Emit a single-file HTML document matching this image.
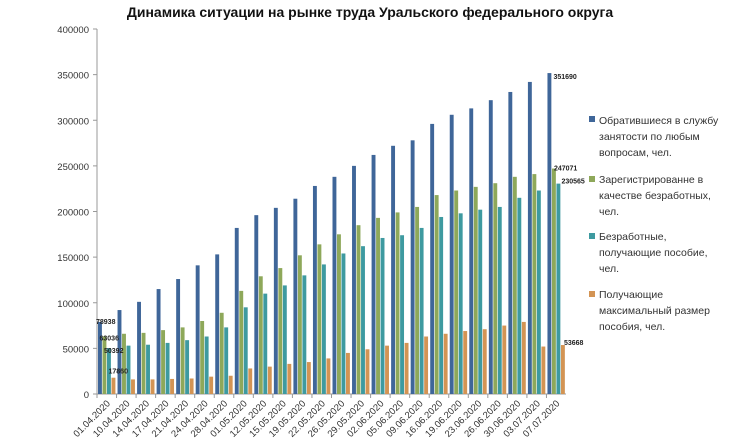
<!DOCTYPE html>
<html><head><meta charset="utf-8"><style>
body{margin:0;background:#fff;}
svg{display:block;font-family:"Liberation Sans","DejaVu Sans",sans-serif;}
</style></head><body>
<svg id="chart" width="735" height="441">
<text x="370" y="17" text-anchor="middle" font-size="14" font-weight="bold" fill="#111">Динамика ситуации  на рынке труда Уральского федерального округа</text>
<g id="axes"></g><g id="bars"></g><g id="labels"></g>
<g font-size="10.5" fill="#333">
 <g><rect x="589" y="116" width="6" height="6" fill="#3f6699"/><text x="599" y="124">Обратившиеся в службу</text><text x="599" y="140">занятости по любым</text><text x="599" y="156">вопросам, чел.</text></g>
 <g><rect x="589" y="176" width="6" height="6" fill="#8ea85a"/><text x="599" y="183">Зарегистрированне в</text><text x="599" y="199">качестве безработных,</text><text x="599" y="215">чел.</text></g>
 <g><rect x="589" y="233" width="6" height="6" fill="#3e9aa0"/><text x="599" y="240">Безработные,</text><text x="599" y="256">получающие пособие,</text><text x="599" y="272">чел.</text></g>
 <g><rect x="589" y="291" width="6" height="6" fill="#d39454"/><text x="599" y="298">Получающие</text><text x="599" y="314">максимальный размер</text><text x="599" y="330">пособия, чел.</text></g>
</g>
</svg>
<script>
const categories=["01.04.2020","10.04.2020","14.04.2020","17.04.2020","21.04.2020","24.04.2020","28.04.2020","01.05.2020","12.05.2020","15.05.2020","19.05.2020","22.05.2020","26.05.2020","29.05.2020","02.06.2020","05.06.2020","09.06.2020","16.06.2020","19.06.2020","23.06.2020","26.06.2020","30.06.2020","03.07.2020","07.07.2020"];
const applied=[78938,92000,101000,115000,126000,141000,153000,182000,196000,204000,214000,228000,238000,250000,262000,272000,278000,296000,306000,313000,322000,331000,342000,351690];
const registered=[63036,66000,67000,70000,73000,80000,89000,113000,129000,138000,152000,164000,175000,185000,193000,199000,205000,218000,223000,227000,231000,238000,241000,247071];
const benefit=[50392,53000,54000,56000,59000,63000,73000,95000,110000,119000,130000,142000,154000,162000,171000,174000,182000,194000,198000,202000,205000,215000,223000,230565];
const maxBenefit=[17860,16000,16000,16500,17000,19000,20000,28000,30000,33000,35000,39000,45000,49000,53000,56000,63000,66000,69000,71000,75000,79000,52000,53668];
const yTicks=[0,50000,100000,150000,200000,250000,300000,350000,400000];
const NS="http://www.w3.org/2000/svg";
const X0=97,X1=566,Y0=394,Y1=29,YMAX=400000;
const y=v=>Y0-(v/YMAX)*(Y0-Y1);
const bw=(X1-X0)/categories.length;
const x=i=>X0+i*bw;
function mk(t,a,p){const e=document.createElementNS(NS,t);for(const k in a)e.setAttribute(k,a[k]);p.appendChild(e);return e;}
const axes=document.getElementById('axes'),bars=document.getElementById('bars'),labels=document.getElementById('labels');
const ya=mk('line',{x1:X0,y1:Y1,x2:X0,y2:Y0,stroke:'#999'},axes);


const xa=mk('line',{x1:X0,y1:Y0,x2:X1,y2:Y0,stroke:'#999'},axes);


yTicks.forEach(t=>{
 mk('line',{x1:X0-4,y1:y(t),x2:X0,y2:y(t),stroke:'#999'},axes);
 const tx=mk('text',{x:X0-8,y:y(t)+4,'text-anchor':'end','font-size':'9.5',fill:'#333'},axes);
 tx.textContent=t;
 
 
});
const series=[[applied,'#3f6699','applied'],[registered,'#8ea85a','registered'],[benefit,'#3e9aa0','benefit'],[maxBenefit,'#d39454','max-benefit']];
const w=4.5;
categories.forEach((c,i)=>{
 mk('line',{x1:x(i),y1:Y0,x2:x(i),y2:Y0+4,stroke:'#999'},axes);
 series.forEach((s,j)=>{
  const v=s[0][i];
  const r=mk('rect',{x:x(i)+1+j*w,y:y(v),width:w-0.6,height:Y0-y(v),fill:s[1]},bars);
  
  
 });
 const cx=x(i)+bw/2+4,cy=Y0+10;
 const t=mk('text',{x:cx,y:cy,'text-anchor':'end','font-size':'9.5',fill:'#333',transform:`rotate(-45 ${cx} ${cy})`},axes);
 t.textContent=c;
 
 
});
function lab(i,s,j,dx,dy){const v=s[i];const t=mk('text',{x:x(i)+1+j*w+dx,y:y(v)+dy,'font-size':'7','font-weight':'bold',fill:'#222'},labels);t.textContent=v;
 
 }
lab(0,applied,0,-2,2);lab(0,registered,1,-3,4);lab(0,benefit,2,-3,5);lab(0,maxBenefit,3,-3,-4);
const L=categories.length-1;
lab(L,applied,0,6,6);lab(L,registered,1,2,2);lab(L,benefit,2,5,0);lab(L,maxBenefit,3,3,0);
</script>
</body></html>
